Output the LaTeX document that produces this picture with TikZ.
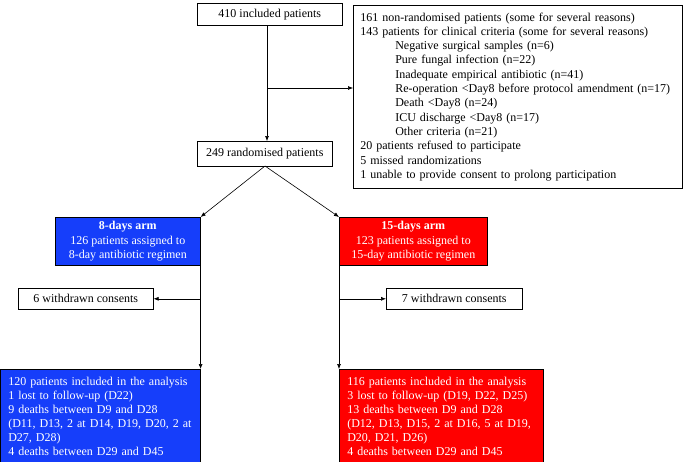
\documentclass[tikz,border=0pt]{standalone}
\usepackage{fontspec}
\setmainfont{Liberation Serif}
\usetikzlibrary{arrows.meta}
\definecolor{armblue}{RGB}{22,62,250}
\definecolor{armred}{RGB}{255,0,0}
\newcommand{\ind}{\hspace*{35pt}}

\begin{document}
\begin{tikzpicture}[x=1pt,y=-1pt,
        main/.style = {draw, rectangle, line width=0.6pt, inner sep=0pt, anchor=north west,
                       font=\fontsize{12}{14.3}\selectfont},
        arm/.style = {main, text=white, align=center, font=\fontsize{12}{14.5}\selectfont},
        res/.style = {main, text=white, align=left, inner xsep=8pt, font=\fontsize{12}{14}\selectfont},
        >={Latex[length=5pt,width=4pt]}, line width=0.6pt]
        \useasboundingbox (0,0) rectangle (685,461);
        \node[main, minimum width=145pt, minimum height=22pt] (incl) at (197,3) {410 included patients};
        \node[main, minimum width=329pt, minimum height=183pt, align=left, inner xsep=7pt,
              text width=315pt] (excl) at (353,5)
            {161 non-randomised patients (some for several reasons)\\
             143 patients for clinical criteria (some for several reasons)\\
             \ind Negative surgical samples (n=6)\\
             \ind Pure fungal infection (n=22)\\
             \ind Inadequate empirical antibiotic (n=41)\\
             \ind Re-operation <Day8 before protocol amendment (n=17)\\
             \ind Death <Day8 (n=24)\\
             \ind ICU discharge <Day8 (n=17)\\
             \ind Other criteria (n=21)\\
             20 patients refused to participate\\
             5 missed randomizations\\
             1 unable to provide consent to prolong participation};
        \node[main, minimum width=135pt, minimum height=25pt] (rand) at (197,141) {249 randomised patients};
        \node[arm, fill=armblue, minimum width=145pt, minimum height=48pt] (arm8) at (55,217)
            {\textbf{8-days arm}\\126 patients assigned to\\8-day antibiotic regimen};
        \node[arm, fill=armred, minimum width=148pt, minimum height=48pt] (arm15) at (339,217)
            {\textbf{15-days arm}\\123 patients assigned to\\15-day antibiotic regimen};
        \node[main, minimum width=135pt, minimum height=21pt] (wd8) at (18,288) {6 withdrawn consents};
        \node[main, minimum width=136pt, minimum height=21pt] (wd15) at (386,288) {7 withdrawn consents};
        \node[res, fill=armblue, minimum width=200pt, minimum height=94pt, text width=184pt] (res8) at (0,369)
            {120 patients included in the analysis\\
             1 lost to follow-up (D22)\\
             9 deaths between D9 and D28\\
             (D11, D13, 2 at D14, D19, D20, 2 at\\
             D27, D28)\\
             4 deaths between D29 and D45};
        \node[res, fill=armred, minimum width=204pt, minimum height=94pt, text width=188pt] (res15) at (339,369)
            {116 patients included in the analysis\\
             3 lost to follow-up (D19, D22, D25)\\
             13 deaths between D9 and D28\\
             (D12, D13, D15, 2 at D16, 5 at D19,\\
             D20, D21, D26)\\
             4 deaths between D29 and D45};
        \coordinate (split) at (267,88);
        \coordinate (top) at (265,166);
        \draw[->] (incl.south -| split) -- (rand.north -| split);
        \draw[->] (split) -- (excl.west |- split);
        \draw[->] (top) -- (arm8.north east);
        \draw[->] (top) -- (arm15.north west);
        \draw[->] (arm8.south east) -- (res8.north east);
        \draw[->] (arm15.south west) -- (res15.north west);
        \draw[->] (arm8.south east |- wd8) -- (wd8.east);
        \draw[->] (arm15.south west |- wd15) -- (wd15.west);
\end{tikzpicture}
\end{document}
